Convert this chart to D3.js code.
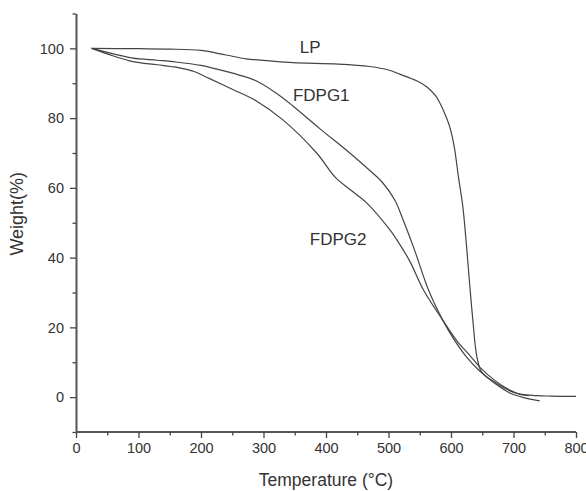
<!DOCTYPE html>
<html>
<head>
<meta charset="utf-8">
<script src="https://cdn.jsdelivr.net/npm/d3@7"></script>
<style>
  body { margin: 0; background: #fff; }
  text { font-family: "Liberation Sans", Arial, sans-serif; fill: #333; }
</style>
</head>
<body>
<div id="wrapper"></div>
<script>
// TGA curves, [temperature °C, weight %]
const lpData = [
  [25, 100], [100, 99.9], [150, 99.8], [200, 99.4], [240, 98.1], [272, 97],
  [310, 96.4], [347, 95.9], [420, 95.5], [470, 94.8], [500, 93.8], [518, 92.6],
  [545, 90.7], [561, 89], [575, 86.5], [582, 84.4], [590, 81.3], [598, 77.5],
  [605, 72], [612, 63], [619, 54.5], [625, 43], [630, 32], [635, 22],
  [641, 12], [648, 7.5], [657, 5.8], [667, 4.6], [685, 2.6], [705, 1.1],
  [730, 0.5], [760, 0.3], [800, 0.2]
];
const fdpg1Data = [
  [25, 100], [60, 98.4], [91, 97.2], [130, 96.6], [160, 96.1], [200, 95.1],
  [224, 94.1], [260, 92.4], [288, 90.7], [320, 87.2], [347, 83.5], [390, 77],
  [438, 70], [470, 65], [491, 61.4], [510, 56.5], [523, 51], [542, 42],
  [564, 30.7], [587, 22], [605, 16.5], [625, 11.5], [646, 7.5], [670, 4],
  [694, 1.2], [720, -0.3], [742, -1.1]
];
const fdpg2Data = [
  [25, 100], [60, 97.8], [91, 96.2], [130, 95.3], [160, 94.6], [190, 93.3],
  [213, 91.4], [250, 88.3], [288, 85], [331, 79.5], [385, 70], [415, 63],
  [440, 59.3], [465, 55.7], [502, 48], [518, 43.8], [534, 39], [556, 30.7], [587, 22],
  [610, 16], [630, 12], [646, 8.6], [670, 4.8], [694, 2], [710, 0.8], [725, 0.4]
];
const seriesNames = ['LP', 'FDPG1', 'FDPG2'];
// label anchor positions in data units (start x, baseline y)
const labelX = [358, 347, 374];
const labelY = [98.8, 85, 43.6];
const xTicks = [0, 100, 200, 300, 400, 500, 600, 700, 800];
const yTicks = [0, 20, 40, 60, 80, 100];

function drawChart() {
  const width = 586;
  const height = 491;

  const svg = d3.select('#wrapper')
    .append('svg')
    .attr('width', width)
    .attr('height', height);

  const xScale = d3.scaleLinear().domain([0, 800]).range([76, 576]);
  const yScale = d3.scaleLinear().domain([-10, 110]).range([432, 13.5]);

  const line = d3.line()
    .x(d => xScale(d[0]))
    .y(d => yScale(d[1]))
    .curve(d3.curveCatmullRom.alpha(0.5));

  [lpData, fdpg1Data, fdpg2Data].forEach(data => {
    svg.append('path')
      .attr('d', line(data))
      .attr('fill', 'none')
      .attr('stroke', '#444')
      .attr('stroke-width', 1.2);
  });

  // axes
  const xAxis = svg.append('g')
    .attr('transform', `translate(0, ${yScale(-10)})`)
    .call(d3.axisBottom(xScale).tickValues(xTicks).tickSize(6).tickPadding(5).tickFormat(d3.format('d')));
  svg.append('g')
    .attr('transform', `translate(0, ${yScale(-10)})`)
    .call(d3.axisBottom(xScale).tickValues(d3.range(50, 800, 100)).tickSize(3.5).tickFormat(''))
    .select('.domain').remove();

  svg.append('g')
    .attr('transform', `translate(${xScale(0)}, 0)`)
    .call(d3.axisLeft(yScale).tickValues(yTicks).tickSize(6).tickPadding(6).tickSizeOuter(0));
  svg.append('g')
    .attr('transform', `translate(${xScale(0)}, 0)`)
    .call(d3.axisLeft(yScale).tickValues(d3.range(-10, 111, 20)).tickSize(3.5).tickFormat(''))
    .select('.domain').remove();

  xAxis.select('.domain').attr('d', `M${xScale(0)},0H${xScale(800)}`);

  svg.selectAll('.domain')
    .attr('stroke', '#555')
    .attr('stroke-width', 2);
  svg.selectAll('.tick line')
    .attr('stroke', '#444')
    .attr('stroke-width', 1.3);
  svg.selectAll('.tick text')
    .style('font-size', '14.5px')
    .attr('fill', '#3a3a3a');

  // series labels
  seriesNames.forEach((name, i) => {
    svg.append('text')
      .attr('x', xScale(labelX[i]))
      .attr('y', yScale(labelY[i]))
      .style('font-size', '17px')
      .text(name);
  });

  // axis titles
  svg.append('text')
    .attr('x', (xScale(0) + xScale(800)) / 2)
    .attr('y', 486)
    .attr('text-anchor', 'middle')
    .style('font-size', '17.5px')
    .text('Temperature (°C)');

  svg.append('text')
    .attr('transform', `translate(23, ${(yScale(-10) + yScale(110)) / 2 - 9}) rotate(-90)`)
    .attr('text-anchor', 'middle')
    .style('font-size', '18px')
    .text('Weight(%)');
}

drawChart();
</script>
</body>
</html>
